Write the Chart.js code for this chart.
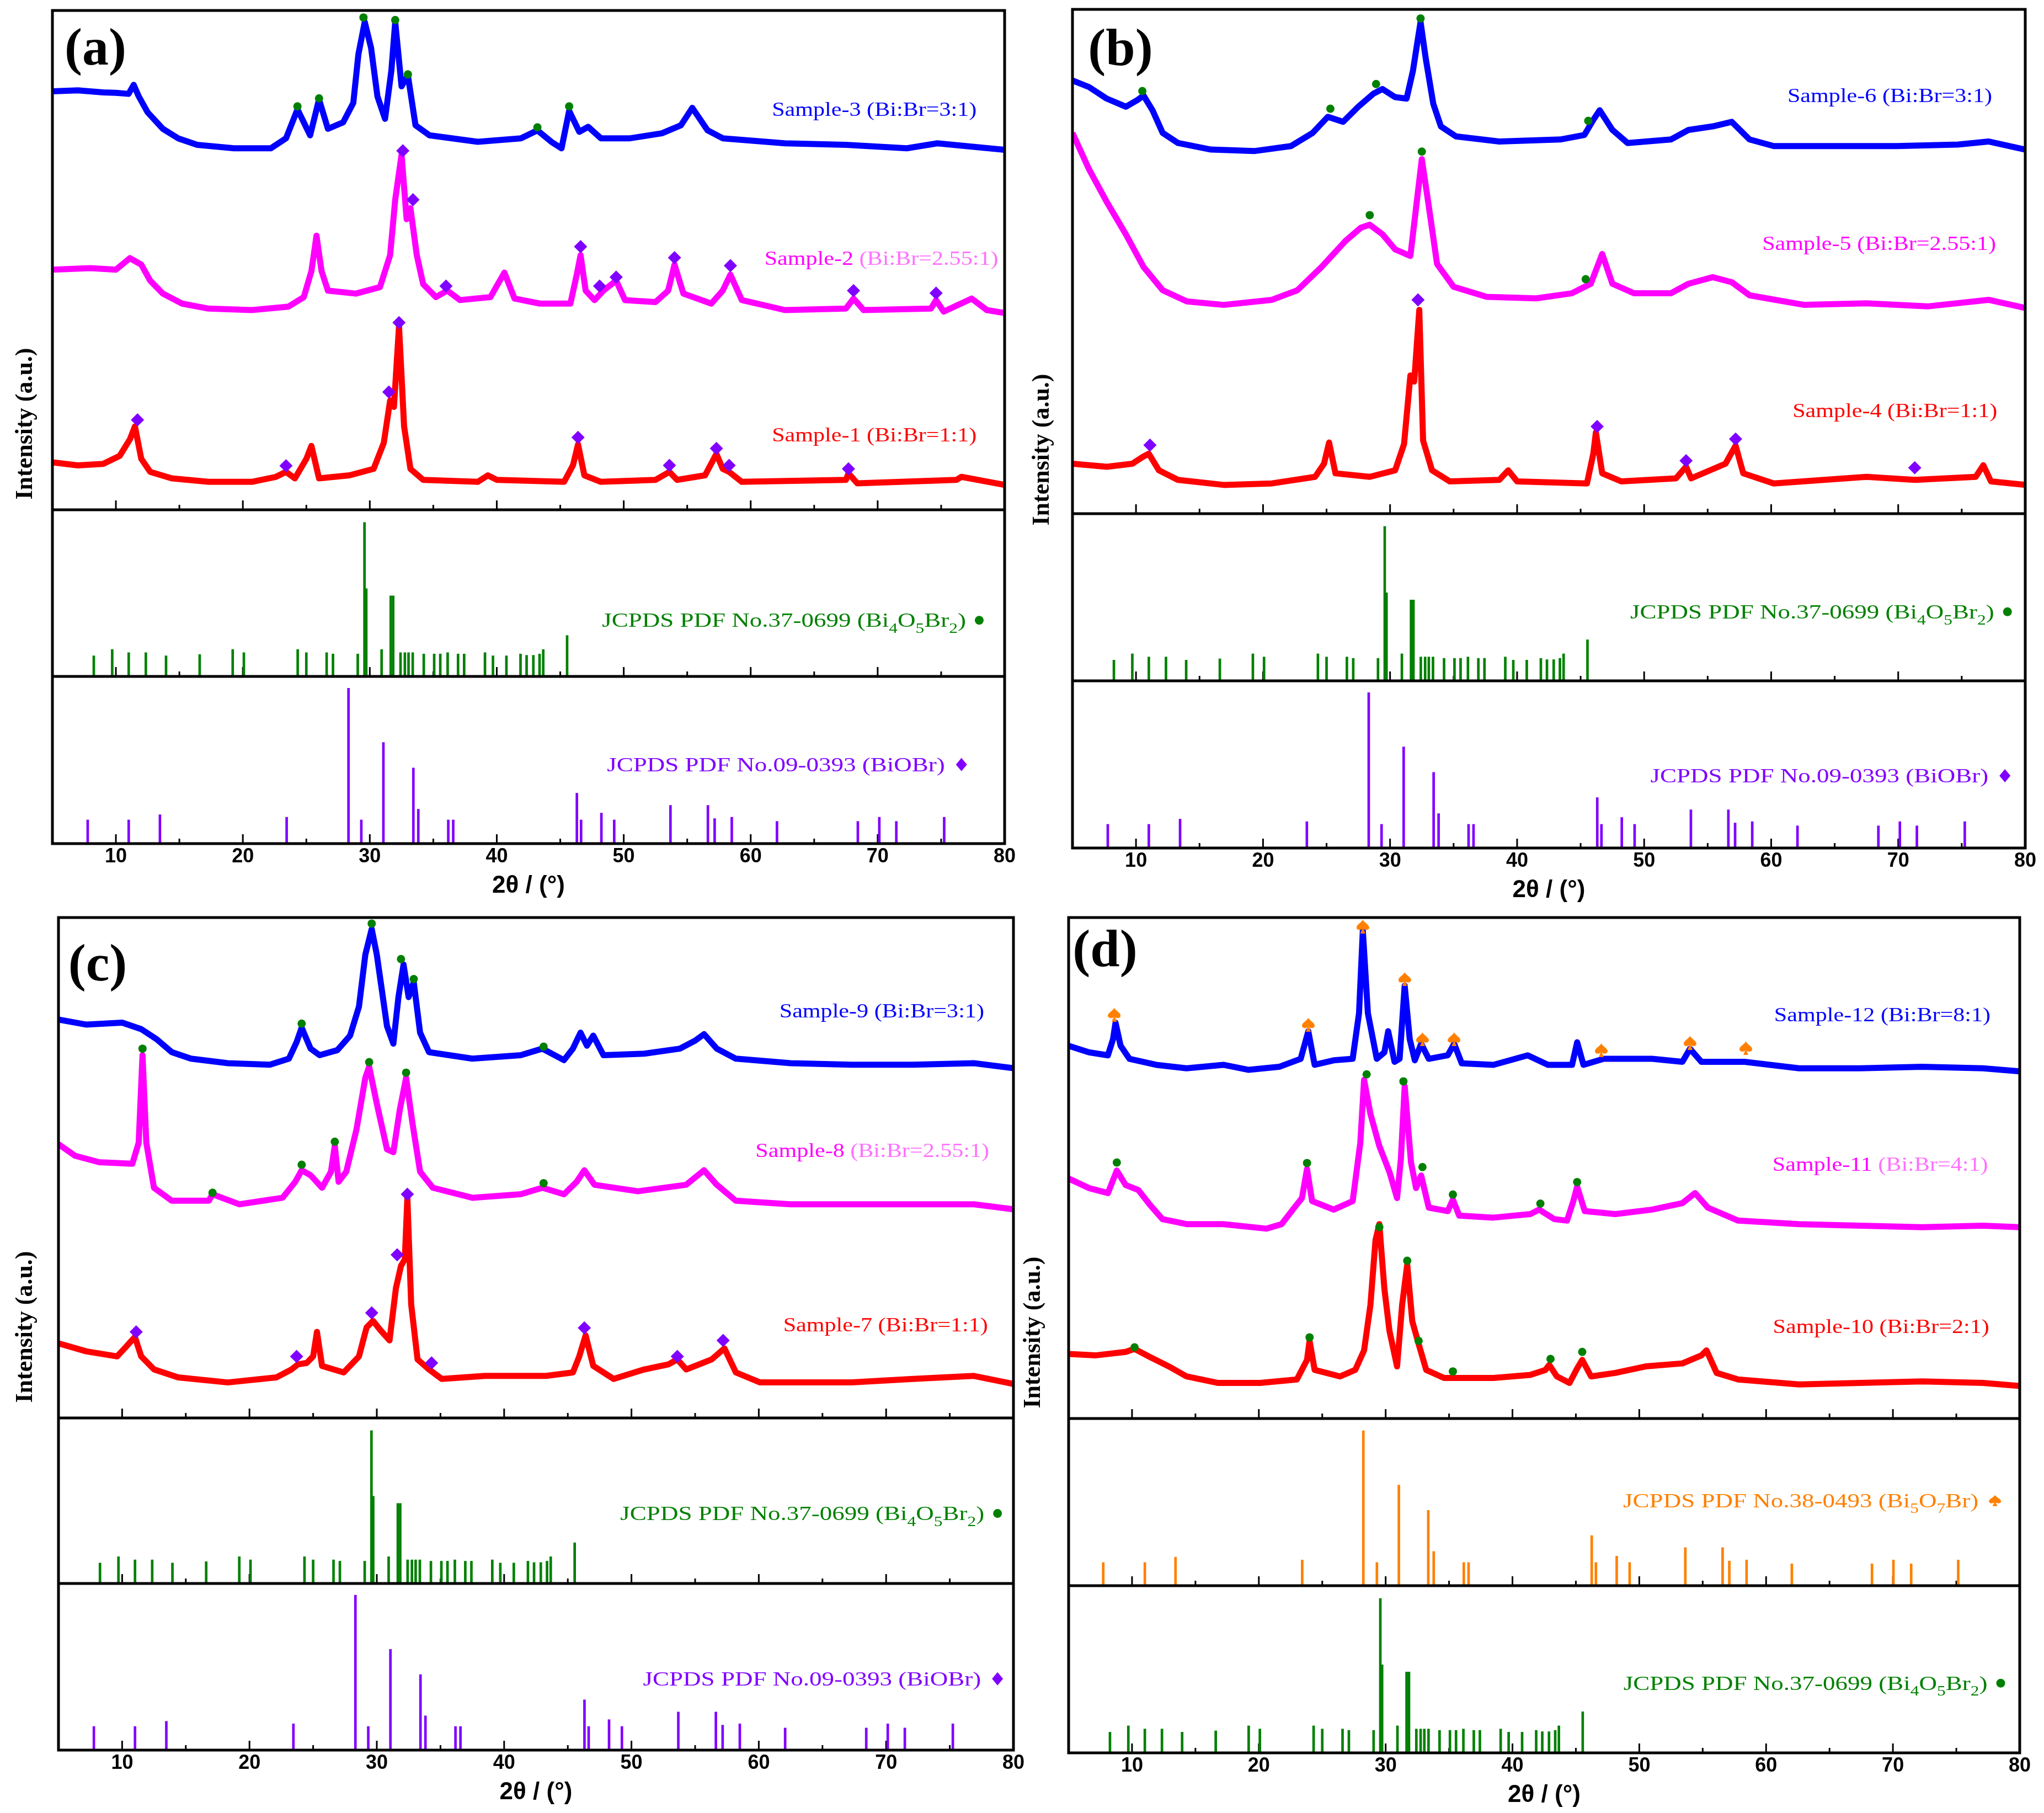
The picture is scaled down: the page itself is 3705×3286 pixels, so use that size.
<!DOCTYPE html>
<html>
<head>
<meta charset="utf-8">
<script src="https://cdn.jsdelivr.net/npm/chart.js@4.4.1/dist/chart.umd.min.js"></script>
<style>
  body { margin: 0; background: #fff; }
  #wrap { position: relative; width: 3705px; height: 3286px; background: #fff; }
  canvas { position: absolute; }
</style>
</head>
<body>
<div id="wrap">
  <canvas id="pa"></canvas>
  <canvas id="pb"></canvas>
  <canvas id="pc"></canvas>
  <canvas id="pd"></canvas>
</div>
<script>
// ---- axis ticks ----
const xTicks = [10, 20, 30, 40, 50, 60, 70, 80];
const minorTicks = [15, 25, 35, 45, 55, 65, 75];

// ---- reference patterns (2theta, relative intensity) ----
const bi4o5br2Pos = [8.26, 9.71, 11.01, 12.36, 13.95, 16.6, 19.2, 20.08, 24.32, 25.0, 26.6, 27.1, 29.05, 29.58, 29.72, 30.93, 31.65, 31.84, 32.42, 32.76, 33.05, 33.38, 34.25, 35.07, 35.55, 36.13, 36.95, 37.43, 39.07, 39.7, 40.76, 41.87, 42.35, 42.88, 43.37, 43.66, 45.54];
const bi4o5br2Int = [12.4, 16.2, 14.3, 14.3, 12.4, 13.2, 16.2, 14.3, 16.2, 14.3, 14.3, 13.5, 13.5, 92.4, 52.7, 16.2, 48.4, 48.4, 14.3, 14.3, 14.3, 14.3, 13.5, 13.5, 13.5, 14.3, 13.5, 13.5, 14.3, 12.4, 12.4, 13.5, 12.7, 12.7, 13.5, 16.2, 24.6];
const biobrPos = [7.78, 11.01, 13.47, 23.45, 28.32, 29.33, 31.07, 33.43, 33.82, 36.18, 36.57, 46.31, 46.64, 48.24, 49.25, 53.68, 56.63, 57.16, 58.51, 62.07, 68.44, 70.13, 71.47, 75.24];
const biobrInt = [14.2, 14.2, 17.3, 15.8, 93.0, 14.2, 60.5, 45.3, 20.6, 14.2, 14.2, 30.2, 14.2, 18.3, 14.2, 22.9, 22.9, 15.0, 15.8, 13.3, 13.3, 15.8, 13.3, 15.8];
const bi5o7brPos = [7.73, 11.01, 13.43, 23.42, 28.24, 29.31, 31.04, 33.36, 33.79, 36.16, 36.54, 46.25, 46.58, 48.22, 49.24, 53.63, 56.57, 57.1, 58.46, 62.03, 68.35, 70.04, 71.44, 75.15];
const bi5o7brInt = [13.9, 13.9, 17.1, 15.4, 92.7, 13.9, 60.2, 45.1, 20.5, 13.9, 13.9, 30.0, 13.9, 17.7, 13.9, 22.8, 22.8, 14.8, 15.4, 13.1, 13.1, 15.4, 13.1, 15.4];

// ---- panel (a) ----
const sample3 = [[5,83.8],[7,84.0],[9,83.6],[10,83.5],[11,83.3],[11.4,85.1],[11.8,82.8],[12.5,79.6],[13.7,76.3],[14.9,74.4],[16.4,73.1],[19.3,72.4],[22.2,72.4],[23.4,74.4],[24.3,80.2],[25.3,75.0],[26.0,82.2],[26.7,76.3],[27.9,77.6],[28.7,81.5],[29.1,91.2],[29.6,97.7],[30.1,92.5],[30.6,82.8],[31.2,78.3],[31.7,88.0],[32.0,97.7],[32.5,84.8],[33.0,87.0],[33.6,77.0],[34.7,75.0],[38.5,73.7],[41.9,74.4],[43.2,76.0],[44.3,73.7],[45.1,72.4],[45.7,79.9],[46.5,75.7],[47.2,76.7],[48.2,74.4],[50.5,74.4],[53.0,75.4],[54.5,77.0],[55.4,80.5],[56.6,76.0],[57.8,74.4],[62.7,73.4],[67.5,73.1],[72.3,72.4],[74.7,73.4],[80,72.1]];
const sample2 = [[5,48.1],[8,48.4],[10,48.1],[11.1,50.4],[12.0,49.1],[12.7,45.9],[13.7,43.3],[15.2,41.3],[17.3,40.3],[20.7,40.0],[23.6,40.7],[24.8,42.6],[25.4,47.8],[25.8,54.9],[26.2,47.8],[26.7,43.9],[28.9,43.3],[30.8,44.6],[31.6,51.0],[32.0,62.1],[32.5,71.1],[32.9,58.2],[33.2,60.4],[33.7,51.0],[34.2,45.2],[35.2,42.6],[36.1,43.9],[37.1,42.0],[39.5,42.6],[40.6,47.5],[41.4,42.3],[43.4,41.3],[45.8,41.3],[46.3,47.1],[46.6,51.0],[47.0,43.9],[47.7,42.0],[48.4,43.9],[49.4,45.9],[50.1,42.0],[52.5,41.6],[53.5,43.9],[54.0,49.1],[54.7,43.3],[56.9,41.3],[57.8,43.9],[58.4,47.1],[59.3,42.0],[62.7,40.0],[67.5,40.3],[68.1,42.3],[68.9,40.0],[74.2,40.3],[74.6,42.0],[75.2,39.7],[77.4,42.3],[78.6,40.0],[80,39.4]];
const sample1 = [[5,9.5],[7,8.9],[9,9.2],[10.3,10.8],[11.1,14.1],[11.5,16.7],[12.0,10.2],[12.7,7.6],[14.4,6.3],[17.3,5.6],[20.7,5.6],[22.6,6.6],[23.4,7.6],[24.1,6.3],[25.0,10.2],[25.4,12.8],[26.0,6.3],[28.4,6.9],[30.3,8.2],[31.1,13.4],[31.6,21.9],[31.9,20.6],[32.3,36.8],[32.7,16.7],[33.2,8.2],[34.2,6.0],[38.5,5.6],[39.3,6.9],[40.0,6.0],[45.3,5.6],[46.0,8.9],[46.4,13.1],[46.9,6.9],[48.2,5.6],[52.5,6.0],[53.6,7.6],[54.2,6.0],[56.4,6.9],[57.3,11.2],[57.8,8.2],[58.3,7.6],[59.3,5.6],[67.5,6.0],[67.7,7.3],[68.4,5.3],[76.2,6.0],[76.6,6.6],[80,5.0]];
const dotsA = [[24.3,80.8],[26.0,82.4],[29.5,98.6],[32.0,98.1],[33.0,87.2],[43.2,76.6],[45.7,80.8]];
const diamondsA = [[32.6,71.9],[33.4,62.1],[36.0,44.8],[46.6,52.7],[48.1,44.8],[49.4,46.6],[54.0,50.5],[58.4,48.9],[68.1,43.9],[74.6,43.4],
  [11.7,18.0],[23.4,8.8],[31.5,23.6],[32.3,37.5],[46.4,14.5],[53.6,8.9],[57.3,12.3],[58.3,8.9],[67.7,8.2]];

// ---- panel (b) ----
const sample6 = [[5,85.9],[6.3,84.6],[7.7,82.3],[9.2,80.7],[10.1,82.0],[10.6,82.9],[11.3,80.0],[12.1,75.5],[13.3,73.5],[15.9,72.2],[19.3,71.9],[22.2,72.9],[23.9,75.5],[25.1,78.7],[26.3,77.7],[27.5,80.7],[28.7,83.3],[29.4,84.2],[30.4,82.6],[31.3,82.3],[31.8,87.8],[32.2,94.3],[32.4,97.5],[32.8,90.4],[33.4,81.3],[34.0,76.8],[35.2,74.8],[38.6,73.8],[43.4,74.2],[45.3,75.1],[46.0,78.1],[46.5,80.0],[47.5,76.1],[48.7,73.5],[52.1,74.2],[53.5,76.1],[55.4,76.8],[56.9,77.7],[58.3,74.2],[60.2,72.9],[65.1,72.9],[69.9,72.9],[74.7,73.2],[77.1,73.8],[80,72.2]];
const sample5 = [[5,75.5],[6.3,68.3],[7.7,61.8],[9.2,55.4],[10.6,48.9],[12.1,44.3],[14.0,42.1],[16.9,41.4],[20.7,42.4],[22.7,44.3],[24.6,48.9],[26.5,54.1],[27.7,56.7],[28.4,57.3],[29.4,55.4],[30.4,52.4],[31.6,51.1],[32.1,61.8],[32.5,70.3],[33.0,61.8],[33.7,49.5],[35.0,45.0],[37.6,43.0],[41.5,42.7],[44.3,43.7],[45.8,45.6],[46.7,51.5],[47.5,45.6],[49.2,43.7],[52.1,43.7],[53.5,45.6],[55.4,46.9],[56.9,45.9],[58.3,43.3],[62.6,41.4],[67.5,41.7],[72.3,41.1],[77.1,42.4],[80,40.8]];
const sample4 = [[5,9.9],[7.7,9.3],[9.7,9.9],[10.5,11.2],[11.0,11.9],[11.8,8.6],[13.3,6.7],[16.9,5.7],[20.7,6.0],[24.1,7.3],[24.8,9.9],[25.2,14.1],[25.7,8.0],[28.4,7.3],[30.4,8.6],[31.1,13.8],[31.6,27.4],[31.9,26.2],[32.3,40.4],[32.6,14.5],[33.3,8.6],[34.7,6.4],[38.6,6.7],[39.3,8.6],[40.0,6.4],[45.5,6.0],[46.0,11.9],[46.2,16.1],[46.7,8.0],[48.2,6.4],[52.5,7.0],[53.3,9.3],[53.7,7.0],[56.4,9.9],[57.2,13.5],[57.8,8.0],[60.2,6.0],[67.5,7.3],[71.3,6.7],[76.1,7.3],[76.7,9.6],[77.3,6.4],[80,5.7]];
const dotsB = [[10.5,83.8],[25.3,80.3],[28.9,85.2],[32.4,98.2],[45.6,77.9],[28.4,59.2],[32.5,71.8],[45.4,46.5]];
const diamondsB = [[11.1,13.6],[32.2,42.4],[46.3,17.3],[53.3,10.5],[57.2,14.8],[71.3,9.1]];

// ---- panel (c) ----
const sample9 = [[5,79.6],[7.2,78.6],[10.0,79.0],[11.5,77.7],[12.7,75.7],[13.9,73.1],[15.4,71.8],[18.3,70.9],[21.6,70.6],[23.1,71.8],[23.7,75.1],[24.1,78.0],[24.8,73.8],[25.5,72.5],[26.9,73.5],[27.9,76.4],[28.6,82.2],[29.1,92.6],[29.6,97.7],[30.0,92.6],[30.8,78.3],[31.3,74.8],[31.7,84.1],[32.1,90.6],[32.5,84.1],[32.9,87.1],[33.4,77.0],[34.1,73.1],[37.5,71.8],[41.3,72.5],[43.0,73.8],[44.7,71.5],[45.4,73.8],[46.0,77.0],[46.5,74.4],[47.0,76.4],[47.8,72.5],[51.0,72.8],[53.8,73.8],[55.0,75.4],[55.7,76.7],[56.7,73.8],[58.2,71.8],[62.5,70.9],[67.3,70.6],[72.1,70.6],[76.9,70.9],[80,69.9]];
const sample8 = [[5,54.7],[6.3,52.4],[8.2,51.1],[10.8,50.8],[11.3,55.0],[11.6,72.5],[11.9,55.0],[12.5,46.0],[13.9,43.4],[16.8,43.4],[17.1,44.7],[19.2,42.7],[22.6,44.0],[23.6,47.2],[24.1,49.5],[24.8,48.5],[25.7,46.0],[26.4,49.2],[26.7,54.4],[27.0,47.2],[27.6,49.2],[28.4,57.6],[29.1,68.0],[29.4,70.2],[30.0,62.8],[30.8,53.7],[31.3,53.1],[31.8,61.5],[32.3,68.0],[32.8,58.9],[33.4,49.2],[34.4,46.0],[37.5,44.0],[41.3,44.7],[43.0,46.0],[44.7,44.7],[45.7,47.2],[46.3,49.5],[47.1,46.6],[50.5,45.3],[54.3,46.6],[55.7,49.5],[56.7,46.6],[58.2,43.4],[62.5,42.7],[67.3,42.7],[72.1,42.7],[76.9,42.7],[80,41.7]];
const sample7 = [[5,14.9],[7.2,13.3],[9.6,12.3],[10.3,14.2],[11.0,16.2],[11.5,12.3],[12.5,9.7],[14.4,8.1],[18.3,7.1],[22.1,8.1],[23.3,9.7],[23.8,10.7],[24.5,11.0],[25.0,12.3],[25.3,17.2],[25.7,10.4],[27.4,9.1],[28.6,12.3],[29.2,18.1],[29.7,19.4],[30.3,17.5],[31.0,15.5],[31.5,25.9],[31.9,30.4],[32.2,31.7],[32.4,44.0],[32.7,22.7],[33.2,11.7],[34.1,9.7],[35.1,7.8],[38.5,8.4],[43.3,8.4],[45.4,9.1],[45.9,12.3],[46.4,16.5],[47.0,10.4],[48.6,7.8],[51.0,9.7],[52.9,10.7],[53.6,11.7],[54.3,9.7],[56.3,11.7],[57.3,13.9],[58.2,9.1],[60.1,7.1],[67.3,7.1],[72.1,7.8],[76.9,8.4],[80,6.8]];
const dotsC = [[24.1,78.8],[29.6,98.8],[31.9,91.7],[32.9,87.7],[43.1,74.2],
  [11.6,73.8],[17.1,45.0],[24.1,50.6],[26.7,55.2],[29.4,71.1],[32.3,69.0],[43.1,46.9]];
const diamondsC = [[11.1,17.2],[23.7,12.3],[29.6,21.0],[31.6,32.6],[32.4,44.7],[34.3,11.0],[46.3,18.0],[53.6,12.3],[57.2,15.5]];

// ---- panel (d) ----
const sample12 = [[5,74.4],[6.6,73.1],[8.1,72.5],[8.5,75.7],[8.7,79.0],[9.1,74.4],[9.8,71.8],[11.9,70.6],[14.3,69.9],[17.2,70.6],[19.2,69.6],[21.6,70.2],[23.3,71.8],[23.9,77.3],[24.4,70.6],[25.9,71.5],[27.4,71.8],[27.9,80.9],[28.2,97.4],[28.6,80.9],[29.3,71.8],[29.9,73.1],[30.2,77.3],[30.7,71.2],[31.1,71.8],[31.5,86.4],[31.9,75.7],[32.3,71.5],[32.8,74.8],[33.4,71.8],[34.9,72.5],[35.4,74.8],[36.0,70.9],[38.5,70.6],[41.2,72.5],[42.8,70.6],[44.7,70.6],[45.1,75.1],[45.6,70.6],[47.2,71.8],[51.0,71.8],[53.4,71.2],[54.0,73.8],[54.9,71.2],[58.3,71.2],[62.6,69.9],[67.4,69.9],[72.3,70.2],[77.1,69.9],[80,69.3]];
const sample11 = [[5,47.9],[6.6,46.0],[8.1,45.0],[8.8,49.5],[9.5,46.6],[10.5,45.6],[11.4,42.7],[12.4,39.8],[14.3,38.8],[17.2,38.8],[20.6,37.9],[21.8,38.8],[22.8,42.1],[23.4,44.0],[23.8,49.8],[24.2,43.4],[25.9,41.7],[27.4,43.4],[28.0,55.0],[28.3,67.6],[28.8,60.8],[29.5,54.4],[30.3,49.2],[30.9,44.0],[31.2,51.8],[31.5,66.3],[32.0,51.1],[32.4,46.0],[32.8,48.5],[33.4,42.1],[34.9,41.4],[35.3,43.7],[35.8,40.5],[38.5,40.1],[41.4,40.8],[42.1,41.7],[43.3,39.8],[44.3,39.5],[44.8,43.4],[45.1,46.3],[45.7,41.4],[48.1,40.8],[51.0,41.7],[53.4,43.0],[54.4,45.0],[55.4,42.1],[57.8,39.5],[62.6,38.8],[67.4,38.5],[72.3,38.2],[77.1,38.5],[80,38.2]];
const sample10 = [[5,12.9],[7.1,12.6],[9.5,13.3],[10.2,13.9],[11.4,12.3],[12.9,10.4],[14.3,8.4],[16.8,7.1],[20.1,7.1],[23.0,7.8],[23.8,11.7],[24.0,15.5],[24.4,9.7],[26.4,8.4],[27.6,9.7],[28.3,13.6],[28.8,22.7],[29.2,35.6],[29.5,38.8],[29.9,25.9],[30.3,17.5],[30.9,10.4],[31.3,22.7],[31.7,30.7],[32.1,19.4],[32.6,14.9],[33.2,9.7],[34.6,8.1],[38.5,8.1],[41.4,8.7],[42.6,9.7],[42.9,10.7],[43.5,8.4],[44.5,7.1],[45.1,10.0],[45.5,11.7],[46.2,8.4],[48.1,9.1],[50.5,10.4],[53.4,11.0],[54.9,12.6],[55.3,13.6],[56.1,9.1],[57.8,7.8],[62.6,6.8],[67.4,7.1],[72.3,7.4],[77.1,7.1],[80,6.5]];
const spadesD = [[8.6,80.6],[23.9,78.6],[28.2,98.2],[31.5,87.7],[32.9,75.7],[35.4,75.7],[47.0,73.5],[54.0,75.0],[58.4,73.9]];
const dotsD = [[8.8,51.1],[23.8,51.0],[28.5,68.7],[31.4,67.3],[32.9,50.2],[35.3,44.7],[42.2,42.9],[45.1,47.2],
  [10.2,14.2],[24.0,16.2],[29.5,38.2],[31.7,31.5],[32.6,15.5],[35.3,9.4],[43.0,11.9],[45.5,13.3]];

// ---- styles ----
const BLUE = '#0000FF', MAGENTA = '#FF00FF', PINK = '#FF70FF', RED = '#FF0000';
const GREEN = '#008000', VIOLET = '#8000FF', ORANGE = '#FF8000';
const SERIF = '"Liberation Serif", "Times New Roman", serif';
const SANS = '"Liberation Sans", Arial, sans-serif';

function spadeShape(g, cx, cy, w, h) {
  const x0 = cx - w / 2, y0 = cy - h / 2;
  g.beginPath();
  g.moveTo(cx, y0);
  g.bezierCurveTo(x0 + w * 0.62, y0 + h * 0.22, x0 + w, y0 + h * 0.36, x0 + w, y0 + h * 0.56);
  g.bezierCurveTo(x0 + w, y0 + h * 0.78, x0 + w * 0.64, y0 + h * 0.8, cx + w * 0.04, y0 + h * 0.64);
  g.lineTo(x0 + w * 0.7, y0 + h);
  g.lineTo(x0 + w * 0.3, y0 + h);
  g.lineTo(cx - w * 0.04, y0 + h * 0.64);
  g.bezierCurveTo(x0 + w * 0.36, y0 + h * 0.8, x0, y0 + h * 0.78, x0, y0 + h * 0.56);
  g.bezierCurveTo(x0, y0 + h * 0.36, x0 + w * 0.38, y0 + h * 0.22, cx, y0);
  g.closePath();
  g.fill();
}
const spadeImg = document.createElement('canvas');
spadeImg.width = 23; spadeImg.height = 25;
(function () { const g = spadeImg.getContext('2d'); g.fillStyle = ORANGE; spadeShape(g, 11.5, 12.5, 23, 25); })();

function curve(pairs, color) {
  return { type: 'line', data: pairs.map(p => ({ x: p[0], y: p[1] })), borderColor: color, borderWidth: 11,
    borderJoinStyle: 'round', pointRadius: 0, tension: 0, yAxisID: 'yT', order: 2 };
}
function marks(pairs, color, style, r) {
  return { type: 'line', data: pairs.map(p => ({ x: p[0], y: p[1] })), showLine: false, pointStyle: style,
    pointRadius: r, pointBackgroundColor: color, pointBorderColor: color, pointBorderWidth: 0, yAxisID: 'yT', order: 1 };
}
function sticks(pos, ints, color, axis) {
  return { type: 'bar', data: pos.map((x, i) => ({ x: x, y: ints[i] })), backgroundColor: color, barThickness: 4,
    grouped: false, borderWidth: 0, yAxisID: axis, order: 3 };
}

const G_LABEL = [{ t: 'JCPDS PDF No.37-0699 (Bi' }, { t: '4', sub: true }, { t: 'O' }, { t: '5', sub: true }, { t: 'Br' }, { t: '2', sub: true }, { t: ')' }];
const V_LABEL = [{ t: 'JCPDS PDF No.09-0393 (BiOBr)' }];
const O_LABEL = [{ t: 'JCPDS PDF No.38-0493 (Bi' }, { t: '5', sub: true }, { t: 'O' }, { t: '7', sub: true }, { t: 'Br)' }];

const panels = [
  { id: 'pa', canvas: [0, 0, 1861, 1632], pad: [95, 19, 40], weights: [905, 302, 303],
    letter: '(a)', letterAt: [78, 73], yTitleAt: [-48, 749],
    datasets: [marks(dotsA, GREEN, 'circle', 7.5), marks(diamondsA, VIOLET, 'rectRot', 12),
      curve(sample3, BLUE), curve(sample2, MAGENTA), curve(sample1, RED),
      sticks(bi4o5br2Pos, bi4o5br2Int, GREEN, 'yM'), sticks(biobrPos, biobrInt, VIOLET, 'yB')],
    samples: [['Sample-3 ', BLUE, '(Bi:Br=3:1)', BLUE, 77.8, 80.2], ['Sample-2 ', MAGENTA, '(Bi:Br=2.55:1)', PINK, 79.5, 50.4], ['Sample-1 ', RED, '(Bi:Br=1:1)', RED, 77.8, 15.0]],
    refs: [[G_LABEL, GREEN, 'dot', 'yM', 78.0, 33.7], [V_LABEL, VIOLET, 'diamond', 'yB', 76.6, 47.3]] },
  { id: 'pb', canvas: [1849, 0, 1856, 1640], pad: [95, 17, 34], weights: [914, 303, 303],
    letter: '(b)', letterAt: [87, 76], yTitleAt: [-54, 798],
    datasets: [marks(dotsB, GREEN, 'circle', 7.5), marks(diamondsB, VIOLET, 'rectRot', 12),
      curve(sample6, BLUE), curve(sample5, MAGENTA), curve(sample4, RED),
      sticks(bi4o5br2Pos, bi4o5br2Int, GREEN, 'yM'), sticks(biobrPos, biobrInt, VIOLET, 'yB')],
    samples: [['Sample-6 ', BLUE, '(Bi:Br=3:1)', BLUE, 77.4, 82.9], ['Sample-5 ', MAGENTA, '(Bi:Br=2.55:1)', MAGENTA, 77.7, 53.6], ['Sample-4 ', RED, '(Bi:Br=1:1)', RED, 77.8, 20.4]],
    refs: [[G_LABEL, GREEN, 'dot', 'yM', 78.6, 41.3], [V_LABEL, VIOLET, 'diamond', 'yB', 78.4, 43.2]] },
  { id: 'pc', canvas: [11, 1643, 1866, 1632], pad: [95, 20, 40], weights: [907, 300, 302],
    letter: '(c)', letterAt: [71, 89], yTitleAt: [-59, 742],
    datasets: [marks(dotsC, GREEN, 'circle', 7.5), marks(diamondsC, VIOLET, 'rectRot', 12),
      curve(sample9, BLUE), curve(sample8, MAGENTA), curve(sample7, RED),
      sticks(bi4o5br2Pos, bi4o5br2Int, GREEN, 'yM'), sticks(biobrPos, biobrInt, VIOLET, 'yB')],
    samples: [['Sample-9 ', BLUE, '(Bi:Br=3:1)', BLUE, 77.7, 81.4], ['Sample-8 ', MAGENTA, '(Bi:Br=2.55:1)', PINK, 78.1, 53.5], ['Sample-7 ', RED, '(Bi:Br=1:1)', RED, 78.0, 18.6]],
    refs: [[G_LABEL, GREEN, 'dot', 'yM', 78.75, 42.3], [V_LABEL, VIOLET, 'diamond', 'yB', 78.75, 42.8]] },
  { id: 'pd', canvas: [1842, 1643, 1859, 1637], pad: [95, 20, 40], weights: [908, 303, 303],
    letter: '(d)', letterAt: [66, 63], yTitleAt: [-63, 752],
    datasets: [marks(spadesD, ORANGE, spadeImg, 12), marks(dotsD, GREEN, 'circle', 7.5),
      curve(sample12, BLUE), curve(sample11, MAGENTA), curve(sample10, RED),
      sticks(bi5o7brPos, bi5o7brInt, ORANGE, 'yM'), sticks(bi4o5br2Pos, bi4o5br2Int, GREEN, 'yB')],
    samples: [['Sample-12 ', BLUE, '(Bi:Br=8:1)', BLUE, 77.7, 80.6], ['Sample-11 ', MAGENTA, '(Bi:Br=4:1)', PINK, 77.5, 50.8], ['Sample-10 ', RED, '(Bi:Br=2:1)', RED, 77.6, 18.4]],
    refs: [[O_LABEL, ORANGE, 'spade', 'yM', 78.05, 50.9], [G_LABEL, GREEN, 'dot', 'yB', 78.5, 41.7]] }
];

// draw text made of parts, right edge at xr, vertical centre at ym, stretched horizontally by sx
function richText(ctx, parts, color, xr, ym, size, sx) {
  let w = 0;
  parts.forEach(p => { ctx.font = (p.sub ? size * 0.7 : size) + 'px ' + SERIF; p.w = ctx.measureText(p.t).width; w += p.w; });
  ctx.save();
  ctx.translate(xr - w * sx, ym);
  ctx.scale(sx, 1);
  ctx.textAlign = 'left';
  ctx.textBaseline = 'alphabetic';
  let x = 0;
  parts.forEach(p => {
    ctx.font = (p.sub ? size * 0.7 : size) + 'px ' + SERIF;
    ctx.fillStyle = p.c || color;
    ctx.fillText(p.t, x, size * 0.33 + (p.sub ? size * 0.3 : 0));
    x += p.w;
  });
  ctx.restore();
}

function legendMark(ctx, kind, color, x, y) {
  ctx.save();
  ctx.fillStyle = color;
  if (kind === 'dot') {
    ctx.beginPath(); ctx.ellipse(x, y, 8, 8, 0, 0, Math.PI * 2); ctx.fill();
  } else if (kind === 'diamond') {
    ctx.beginPath(); ctx.moveTo(x, y - 12); ctx.lineTo(x + 10, y); ctx.lineTo(x, y + 12); ctx.lineTo(x - 10, y); ctx.closePath(); ctx.fill();
  } else {
    spadeShape(ctx, x, y, 22, 20);
  }
  ctx.restore();
}

function makePanel(p) {
  const cv = document.getElementById(p.id);
  cv.width = p.canvas[2]; cv.height = p.canvas[3];
  cv.style.left = p.canvas[0] + 'px'; cv.style.top = p.canvas[1] + 'px';

  const framePlugin = {
    id: 'frame',
    beforeDatasetsDraw(chart) {
      const ctx = chart.ctx, xs = chart.scales.x;
      ctx.save();
      ctx.strokeStyle = '#000';
      ctx.lineWidth = 3;
      ['yT', 'yM', 'yB'].forEach(id => {
        const b = chart.scales[id].bottom;
        xTicks.forEach(v => { const px = xs.getPixelForValue(v); ctx.beginPath(); ctx.moveTo(px, b); ctx.lineTo(px, b - 17); ctx.stroke(); });
        minorTicks.forEach(v => { const px = xs.getPixelForValue(v); ctx.beginPath(); ctx.moveTo(px, b); ctx.lineTo(px, b - 9); ctx.stroke(); });
      });
      ctx.restore();
    },
    afterDatasetsDraw(chart) {
      const ctx = chart.ctx, a = chart.chartArea, xs = chart.scales.x, yT = chart.scales.yT;
      ctx.save();
      ctx.strokeStyle = '#000';
      ctx.lineWidth = 5;
      ctx.strokeRect(a.left, a.top, a.right - a.left, a.bottom - a.top);
      [chart.scales.yT.bottom, chart.scales.yM.bottom].forEach(y => {
        ctx.beginPath(); ctx.moveTo(a.left, y); ctx.lineTo(a.right, y); ctx.stroke();
      });
      // panel letter
      ctx.fillStyle = '#000';
      ctx.font = 'bold 96px ' + SERIF;
      ctx.textAlign = 'center';
      ctx.textBaseline = 'middle';
      ctx.fillText(p.letter, a.left + p.letterAt[0], a.top + p.letterAt[1]);
      // y title
      ctx.save();
      ctx.translate(a.left + p.yTitleAt[0], a.top + p.yTitleAt[1]);
      ctx.rotate(-Math.PI / 2);
      ctx.font = 'bold 44px ' + SERIF;
      ctx.fillText('Intensity (a.u.)', 0, 0);
      ctx.restore();
      // sample labels
      p.samples.forEach(s => {
        richText(ctx, [{ t: s[0], c: s[1] }, { t: s[2], c: s[3] }], s[1], xs.getPixelForValue(s[4]), yT.getPixelForValue(s[5]), 36, 1.17);
      });
      // reference labels
      p.refs.forEach(r => {
        const ys = chart.scales[r[3]];
        const mx = xs.getPixelForValue(r[4]), my = ys.getPixelForValue(r[5]);
        richText(ctx, r[0], r[1], mx - (r[2] === 'dot' ? 24 : 30), my, 36, 1.25);
        legendMark(ctx, r[2], r[1], mx, my);
      });
      ctx.restore();
    }
  };

  return new Chart(cv, {
    type: 'line',
    data: { datasets: p.datasets },
    options: {
      responsive: false,
      animation: false,
      events: [],
      devicePixelRatio: 1,
      layout: { padding: { left: p.pad[0], top: p.pad[1], right: p.pad[2], bottom: 0 } },
      plugins: { legend: { display: false }, tooltip: { enabled: false }, title: { display: false } },
      scales: {
        x: {
          type: 'linear', min: 5, max: 80, offset: false,
          grid: { display: false, drawTicks: false },
          border: { display: false },
          afterBuildTicks: s => { s.ticks = xTicks.map(v => ({ value: v })); },
          afterFit: s => { s.height = 103; },
          ticks: { font: { family: SANS, weight: 'bold', size: 36 }, color: '#000', padding: 2, maxRotation: 0, autoSkip: false },
          title: { display: true, text: '2θ / (°)', font: { family: SANS, weight: 'bold', size: 44 }, color: '#000', padding: 0 }
        },
        yB: { type: 'linear', min: 0, max: 100, display: false, position: 'left', stack: 'p', stackWeight: p.weights[2], weight: 1 },
        yM: { type: 'linear', min: 0, max: 100, display: false, position: 'left', stack: 'p', stackWeight: p.weights[1], weight: 2 },
        yT: { type: 'linear', min: 0, max: 100, display: false, position: 'left', stack: 'p', stackWeight: p.weights[0], weight: 3 }
      }
    },
    plugins: [framePlugin]
  });
}

panels.forEach(makePanel);
</script>
</body>
</html>
